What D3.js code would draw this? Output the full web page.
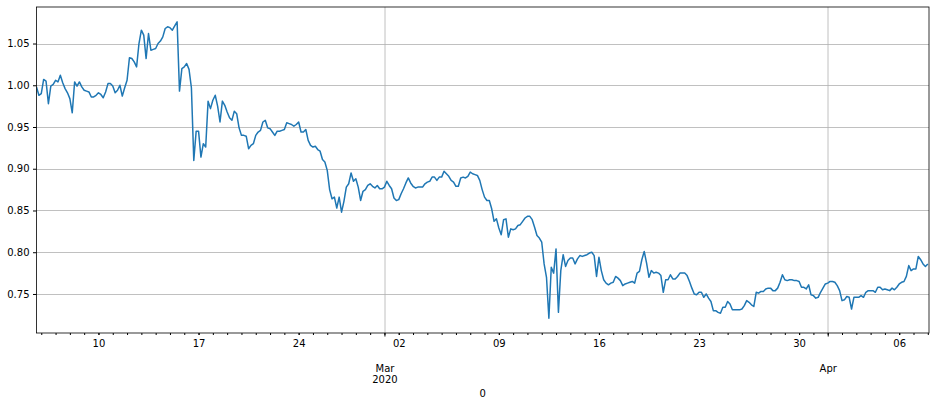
<!DOCTYPE html>
<html>
<head>
<meta charset="utf-8">
<script src="https://cdn.jsdelivr.net/npm/d3@7"></script>
<style>
  body { margin: 0; background: #fff; }
  svg { display: block; }
  text { font-family: "DejaVu Sans", sans-serif; font-size: 10px; fill: #000; }
</style>
</head>
<body>
<svg id="chart"></svg>
<script>
// series: one value every 4 hours, starting 2020-02-05 16:00
const startTime = Date.UTC(2020, 1, 5, 16);
const endTime = Date.UTC(2020, 3, 8, 2);   // x limit of the axis
const stepHours = 4;
const values = [
  0.998, 0.988, 0.990, 1.007, 1.005, 0.978, 0.999, 1.001, 1.006, 1.004,
  1.012, 1.003, 0.996, 0.991, 0.984, 0.967, 1.004, 0.999, 1.004, 0.998,
  0.994, 0.993, 0.992, 0.986, 0.986, 0.988, 0.991, 0.989, 0.985, 0.992,
  1.002, 1.002, 0.999, 0.991, 0.994, 1.000, 0.987, 0.997, 1.006, 1.033,
  1.032, 1.028, 1.022, 1.050, 1.066, 1.060, 1.032, 1.062, 1.042, 1.043,
  1.044, 1.050, 1.053, 1.058, 1.068, 1.070, 1.069, 1.066, 1.071, 1.076,
  0.993, 1.020, 1.022, 1.026, 1.019, 0.997, 0.910, 0.945, 0.945, 0.914,
  0.930, 0.926, 0.981, 0.972, 0.982, 0.988, 0.975, 0.956, 0.981, 0.976,
  0.968, 0.961, 0.958, 0.969, 0.966, 0.949, 0.940, 0.940, 0.939, 0.924,
  0.928, 0.930, 0.940, 0.944, 0.946, 0.956, 0.958, 0.949, 0.948, 0.944,
  0.940, 0.945, 0.945, 0.946, 0.947, 0.955, 0.954, 0.953, 0.951, 0.953,
  0.956, 0.944, 0.944, 0.947, 0.934, 0.928, 0.926, 0.927, 0.923, 0.921,
  0.911, 0.908, 0.898, 0.875, 0.864, 0.866, 0.853, 0.866, 0.848, 0.861,
  0.878, 0.882, 0.895, 0.885, 0.888, 0.878, 0.862, 0.873, 0.875, 0.880,
  0.882, 0.879, 0.877, 0.880, 0.876, 0.876, 0.878, 0.885, 0.880, 0.876,
  0.865, 0.862, 0.863, 0.870, 0.876, 0.883, 0.889, 0.883, 0.879, 0.877,
  0.878, 0.878, 0.878, 0.882, 0.884, 0.885, 0.890, 0.890, 0.886, 0.890,
  0.890, 0.897, 0.894, 0.891, 0.886, 0.884, 0.879, 0.879, 0.889, 0.890,
  0.889, 0.891, 0.896, 0.894, 0.893, 0.892, 0.886, 0.875, 0.866, 0.862,
  0.862, 0.852, 0.837, 0.840, 0.829, 0.821, 0.839, 0.840, 0.818, 0.828,
  0.827, 0.828, 0.832, 0.833, 0.837, 0.841, 0.843, 0.843, 0.839, 0.830,
  0.820, 0.817, 0.812, 0.786, 0.770, 0.721, 0.782, 0.775, 0.804, 0.728,
  0.778, 0.797, 0.783, 0.790, 0.793, 0.793, 0.786, 0.792, 0.796, 0.795,
  0.796, 0.797, 0.799, 0.800, 0.796, 0.771, 0.794, 0.778, 0.767, 0.763,
  0.761, 0.763, 0.764, 0.771, 0.769, 0.766, 0.760, 0.762, 0.763, 0.764,
  0.765, 0.763, 0.775, 0.777, 0.791, 0.801, 0.787, 0.770, 0.778, 0.775,
  0.776, 0.775, 0.772, 0.752, 0.767, 0.767, 0.773, 0.768, 0.768, 0.771,
  0.775, 0.775, 0.775, 0.772, 0.765, 0.757, 0.750, 0.749, 0.752, 0.752,
  0.746, 0.750, 0.745, 0.741, 0.730, 0.730, 0.728, 0.727, 0.734, 0.734,
  0.741, 0.738, 0.731, 0.731, 0.731, 0.731, 0.732, 0.736, 0.742, 0.740,
  0.737, 0.735, 0.752, 0.751, 0.753, 0.753, 0.756, 0.757, 0.757, 0.754,
  0.754, 0.757, 0.764, 0.773, 0.767, 0.766, 0.767, 0.767, 0.766, 0.766,
  0.765, 0.758, 0.758, 0.756, 0.761, 0.749, 0.748, 0.745, 0.746, 0.752,
  0.757, 0.762, 0.763, 0.765, 0.765, 0.764, 0.760, 0.754, 0.742, 0.743,
  0.747, 0.746, 0.732, 0.746, 0.746, 0.746, 0.748, 0.746, 0.752, 0.754,
  0.754, 0.754, 0.752, 0.758, 0.758, 0.755, 0.756, 0.755, 0.754, 0.757,
  0.755, 0.758, 0.762, 0.764, 0.765, 0.771, 0.784, 0.778, 0.780, 0.780,
  0.795, 0.791, 0.786, 0.783, 0.786
];

const yTicks = [0.75, 0.80, 0.85, 0.90, 0.95, 1.00, 1.05];
const weekTicks = ["2020-02-10", "2020-02-17", "2020-02-24", "2020-03-02", "2020-03-09",
                   "2020-03-16", "2020-03-23", "2020-03-30", "2020-04-06"];
const monthTicks = ["2020-03-01", "2020-04-01"];
const monthLabels = [["Mar", "2020"], ["Apr"]];
const xLabel = "0";

const width = 936, height = 406;
const margin = { top: 7, right: 7, bottom: 73, left: 36.5 };
const plotW = width - margin.left - margin.right;
const plotH = height - margin.top - margin.bottom;

const data = values.map((v, i) => ({ t: new Date(startTime + i * stepHours * 3600e3), v: v }));

const x = d3.scaleUtc()
  .domain([new Date(startTime), new Date(endTime)])
  .range([0, plotW]);

const [lo, hi] = d3.extent(values);
const pad = (hi - lo) * 0.05;
const y = d3.scaleLinear()
  .domain([lo - pad, hi + pad])
  .range([plotH, 0]);

const svg = d3.select("#chart")
  .attr("width", width)
  .attr("height", height);

const g = svg.append("g")
  .attr("transform", `translate(${margin.left},${margin.top})`);

// grid lines
const grid = g.append("g").attr("class", "grid")
  .attr("stroke", "#b0b0b0").attr("stroke-width", 0.8);
grid.selectAll("line.h").data(yTicks).join("line")
  .attr("class", "h")
  .attr("x1", 0).attr("x2", plotW)
  .attr("y1", d => Math.round(y(d)) + 0.5).attr("y2", d => Math.round(y(d)) + 0.5);
grid.selectAll("line.v").data(monthTicks).join("line")
  .attr("class", "v")
  .attr("x1", d => Math.round(x(new Date(d))) + 0.5).attr("x2", d => Math.round(x(new Date(d))) + 0.5)
  .attr("y1", 0).attr("y2", plotH);

// line
g.append("clipPath").attr("id", "clip")
  .append("rect").attr("width", plotW).attr("height", plotH);

const line = d3.line()
  .x(d => x(d.t))
  .y(d => y(d.v));

g.append("path")
  .datum(data)
  .attr("clip-path", "url(#clip)")
  .attr("fill", "none")
  .attr("stroke", "#1f77b4")
  .attr("stroke-width", 1.5)
  .attr("stroke-linejoin", "round")
  .attr("d", line);

// y axis
const yAxis = g.append("g")
  .call(d3.axisLeft(y).tickValues(yTicks).tickFormat(d3.format(".2f")).tickSize(3.5).tickPadding(3.5));
yAxis.select(".domain").remove();
yAxis.selectAll("text").style("font-size", "10px").style("font-family", "DejaVu Sans");

// x axis: daily minor ticks
const xMinor = g.append("g")
  .attr("transform", `translate(0,${plotH})`)
  .call(d3.axisBottom(x).tickValues(d3.utcDay.range(new Date(startTime), new Date(endTime))).tickSize(2).tickFormat(""));
xMinor.select(".domain").remove();

// weekly labels
const xWeek = g.append("g")
  .attr("transform", `translate(0,${plotH})`)
  .call(d3.axisBottom(x).tickValues(weekTicks.map(d => new Date(d))).tickSize(2).tickPadding(3.5)
    .tickFormat(d3.utcFormat("%d")));
xWeek.select(".domain").remove();
xWeek.selectAll("text").attr("dy", null).attr("y", 13.8)
  .style("font-size", "10px").style("font-family", "DejaVu Sans");

// month ticks
const xMonth = g.append("g")
  .attr("transform", `translate(0,${plotH})`)
  .call(d3.axisBottom(x).tickValues(monthTicks.map(d => new Date(d))).tickSize(3.5).tickFormat(""));
xMonth.select(".domain").remove();
xMonth.selectAll(".tick").each(function (d, i) {
  const t = d3.select(this).append("text")
    .attr("text-anchor", "middle")
    .attr("fill", "#000");
  monthLabels[i].forEach((s, k) => {
    t.append("tspan").attr("x", 0).attr("y", 39.3 + k * 11).text(s);
  });
});

// frame
g.append("rect")
  .attr("x", 0).attr("y", 0)
  .attr("width", plotW).attr("height", plotH)
  .attr("fill", "none")
  .attr("stroke", "#000")
  .attr("stroke-width", 0.8);

// axis label
g.append("text")
  .attr("x", plotW / 2)
  .attr("y", plotH + 63.5)
  .attr("text-anchor", "middle")
  .text(xLabel);
</script>
</body>
</html>
